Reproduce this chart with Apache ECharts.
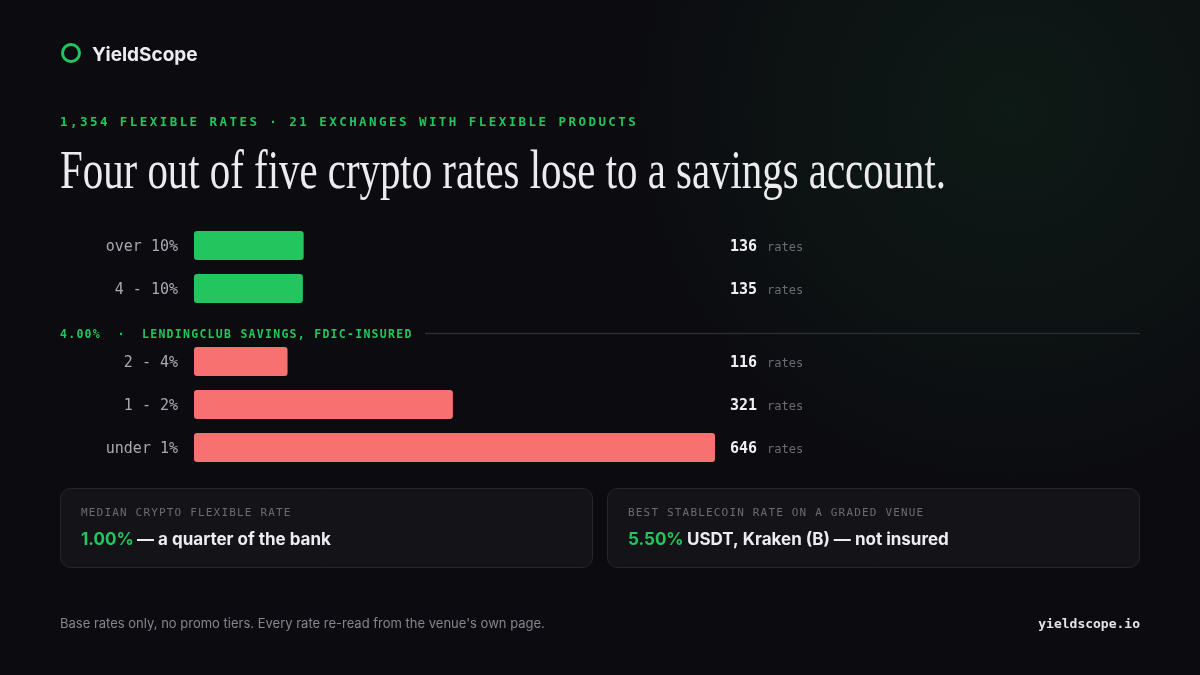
<!DOCTYPE html>
<html>
<head>
<meta charset="utf-8">
<script src="https://cdn.jsdelivr.net/npm/echarts@6/dist/echarts.min.js"></script>
<style>
html,body{margin:0;padding:0;background:#0c0c10;}
#chart{width:1200px;height:675px;}
</style>
</head>
<body>
<div id="chart"></div>
<script>
// ---- data ----
const topCategories = ['over 10%', '4 - 10%'];
const topCounts = [136, 135];
const bottomCategories = ['2 - 4%', '1 - 2%', 'under 1%'];
const bottomCounts = [116, 321, 646];
const brandName = 'YieldScope';
const kicker = '1,354 FLEXIBLE RATES · 21 EXCHANGES WITH FLEXIBLE PRODUCTS';
const headline = 'Four out of five crypto rates lose to a savings account.';
const benchmarkLabel = '4.00%  ·  LENDINGCLUB SAVINGS, FDIC-INSURED';
const cardLabels = ['MEDIAN CRYPTO FLEXIBLE RATE', 'BEST STABLECOIN RATE ON A GRADED VENUE'];
const cardValues = ['1.00%', '5.50%'];
const cardTexts = ['— a quarter of the bank', 'USDT, Kraken (B) — not insured'];
const footnote = "Base rates only, no promo tiers. Every rate re-read from the venue's own page.";
const siteName = 'yieldscope.io';
const unitLabel = 'rates';

const GREEN = '#22c55e', RED = '#f87171';
const MONO = '"DejaVu Sans Mono", "Liberation Mono", monospace';
const SANS = 'Inter, "Noto Sans", sans-serif';
const maxCount = Math.max(...topCounts, ...bottomCounts);

function spaced(text, x0, y, pitch, fill, font) {
  const out = [];
  for (let i = 0; i < text.length; i++) {
    const ch = text[i];
    if (ch === ' ') continue;
    out.push({type: 'text', x: x0 + i * pitch, y: y, silent: true,
      style: {text: ch, fill: fill, font: font, verticalAlign: 'middle'}});
  }
  return out;
}

// measure headline for condensed serif look
const cv = document.createElement('canvas').getContext('2d');
const headFont = '54px "Liberation Serif", serif';
cv.font = headFont;
const headScale = 886 / cv.measureText(headline).width;

const chart = echarts.init(document.getElementById('chart'), null, {renderer: 'canvas'});

function valueAxis(idx) {
  return {type: 'value', gridIndex: idx, min: 0, max: maxCount, show: false};
}
function catAxis(idx, cats) {
  return {type: 'category', gridIndex: idx, data: cats, inverse: true,
    axisLine: {show: false}, axisTick: {show: false}, splitLine: {show: false},
    axisLabel: {margin: 16,
      formatter: (v) => '{a|' + v + '}',
      rich: {a: {color: '#a8a8b0', fontFamily: MONO, fontSize: 15, padding: [4, 0, 0, 0]}}}};
}
function countAxis(idx, cats, counts) {
  return {type: 'category', gridIndex: idx, data: cats, inverse: true, position: 'right',
    axisLine: {show: false}, axisTick: {show: false}, splitLine: {show: false},
    axisLabel: {margin: 15, align: 'left', padding: [3, 0, 0, 0],
      formatter: (v, i) => '{n|' + counts[i] + '}{r|' + unitLabel + '}',
      rich: {
        n: {color: '#f0f0f2', fontFamily: MONO, fontWeight: 'bold', fontSize: 15, padding: [0, 10, 0, 0]},
        r: {color: '#6b6b73', fontFamily: MONO, fontSize: 12, padding: [2, 0, 0, 0]}
      }}};
}

const graphics = [
  // glow
  {type: 'circle', z: -10, silent: true, shape: {cx: 1010, cy: 110, r: 380},
    style: {fill: new echarts.graphic.RadialGradient(0.5, 0.5, 0.5, [
      {offset: 0, color: 'rgba(34,197,94,0.075)'},
      {offset: 0.55, color: 'rgba(34,197,94,0.035)'},
      {offset: 1, color: 'rgba(34,197,94,0)'}])}},
  // logo
  {type: 'circle', shape: {cx: 71, cy: 53, r: 8.5}, style: {fill: 'none', stroke: GREEN, lineWidth: 3}},
  {type: 'text', x: 92, y: 55, style: {text: brandName, fill: '#ececef', font: 'bold 19px ' + SANS, verticalAlign: 'middle'}},
  // headline
  {type: 'text', x: 60, y: 174, scaleX: headScale, scaleY: 1,
    style: {text: headline, fill: '#ececef', font: headFont, verticalAlign: 'middle'}},
  // benchmark line
  {type: 'line', shape: {x1: 425, y1: 333.5, x2: 1140, y2: 333.5}, style: {stroke: '#2b2b31', lineWidth: 1.5}},
  // cards
  {type: 'rect', shape: {x: 60.5, y: 488.5, width: 532, height: 79, r: 10}, style: {fill: '#141418', stroke: '#26262c', lineWidth: 1}},
  {type: 'rect', shape: {x: 607.5, y: 488.5, width: 532, height: 79, r: 10}, style: {fill: '#141418', stroke: '#26262c', lineWidth: 1}},
  {type: 'text', x: 81, y: 540, style: {text: '{g|' + cardValues[0] + '} {w|' + cardTexts[0] + '}', verticalAlign: 'middle',
    rich: {g: {fill: GREEN, font: 'bold 17px ' + SANS}, w: {fill: '#ededf0', font: 'bold 17px ' + SANS}}}},
  {type: 'text', x: 628, y: 540, style: {text: '{g|' + cardValues[1] + '} {w|' + cardTexts[1] + '}', verticalAlign: 'middle',
    rich: {g: {fill: GREEN, font: 'bold 17px ' + SANS}, w: {fill: '#ededf0', font: 'bold 17px ' + SANS}}}},
  // footer
  {type: 'text', x: 60, y: 624, style: {text: footnote, fill: '#85858e', font: '13px ' + SANS, verticalAlign: 'middle'}},
  {type: 'text', x: 1140, y: 625, style: {text: siteName, fill: '#e4e4e7', font: 'bold 13px ' + MONO, align: 'right', verticalAlign: 'middle'}}
].concat(
  spaced(kicker, 60, 122.5, 9.97, GREEN, 'bold 12.5px ' + MONO),
  spaced(benchmarkLabel, 60, 335, 8.2, GREEN, 'bold 11.5px ' + MONO),
  spaced(cardLabels[0], 81, 513.5, 7.8, '#6b6b73', '11px ' + MONO),
  spaced(cardLabels[1], 628, 513.5, 7.8, '#6b6b73', '11px ' + MONO)
);

chart.setOption({
  backgroundColor: '#0c0c10',
  animation: false,
  grid: [
    {left: 194, top: 224, width: 521, height: 86},
    {left: 194, top: 340, width: 521, height: 129}
  ],
  xAxis: [valueAxis(0), valueAxis(1)],
  yAxis: [catAxis(0, topCategories), catAxis(1, bottomCategories),
          countAxis(0, topCategories, topCounts), countAxis(1, bottomCategories, bottomCounts)],
  series: [
    {type: 'bar', xAxisIndex: 0, yAxisIndex: 0, data: topCounts, barWidth: 29,
      itemStyle: {color: GREEN, borderRadius: 3}, silent: true},
    {type: 'bar', xAxisIndex: 1, yAxisIndex: 1, data: bottomCounts, barWidth: 29,
      itemStyle: {color: RED, borderRadius: 3}, silent: true}
  ],
  graphic: {elements: graphics}
});
</script>
</body>
</html>
